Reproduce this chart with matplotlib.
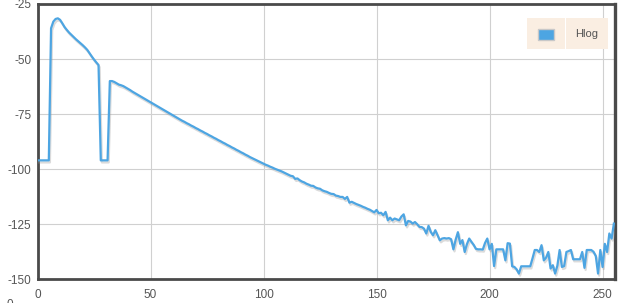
import numpy as np
import matplotlib
matplotlib.use("Agg")
import matplotlib.pyplot as plt
import matplotlib.patheffects as pe
from matplotlib.patches import Rectangle

# =========================
# 1) DATA (bins 0..255)
# =========================
series_name = "Hlog"

hlog_0_39 = [-96, -96, -96, -96, -96, -96, -36, -33, -31.8, -31.5,
             -32.2, -33.8, -35.5, -36.8, -38, -39, -40, -41, -41.9, -42.8,
             -43.7, -44.7, -45.8, -47.3, -48.8, -50.2, -51.5, -52.7, -96, -96,
             -96, -96, -60, -60, -60.4, -61, -61.6, -61.9, -62.3, -62.9]
hlog_40_99 = [-63.5, -64.1, -64.8, -65.4, -66, -66.6, -67.2, -67.8, -68.4, -69,
              -69.6, -70.2, -70.8, -71.4, -72, -72.6, -73.2, -73.8, -74.4, -75,
              -75.6, -76.2, -76.8, -77.4, -78, -78.5, -79.1, -79.6, -80.2, -80.7,
              -81.3, -81.8, -82.4, -82.9, -83.5, -84, -84.6, -85.1, -85.7, -86.2,
              -86.8, -87.3, -87.9, -88.4, -89, -89.5, -90.1, -90.6, -91.2, -91.7,
              -92.3, -92.8, -93.4, -93.9, -94.5, -95, -95.5, -96, -96.5, -97]
hlog_100_149 = [-97.5, -98, -98.4, -98.9, -99.3, -99.8, -100.2, -100.6, -101, -101.5,
                -102, -102.5, -103, -103.2, -104.4, -104.2, -105, -105.6, -106, -106.6,
                -107, -107.5, -107.6, -108.3, -108.7, -108.9, -109.6, -110, -110.3, -110.8,
                -111.2, -111.3, -112, -112.2, -112.6, -112.6, -113.5, -112.6, -115.2, -114.8,
                -115.3, -115.8, -116.2, -116.6, -117.1, -117.5, -118, -118.4, -119, -119.6]
hlog_150_199 = [-118.5, -120, -119.8, -120.9, -119.4, -123.2, -122, -123.2, -122.4, -122.8,
                -123.2, -121.5, -120.5, -125.5, -123.5, -123.8, -124.7, -124, -125, -126.2,
                -126.3, -127, -129.2, -125.7, -128.5, -130, -127.7, -130, -132.3, -131.5,
                -131.3, -131.5, -131.3, -131.8, -136.4, -132, -128.6, -133.9, -132.2, -137.6,
                -134, -131.5, -133, -134.4, -136.2, -136.4, -136.4, -136.5, -133.5, -131.5]
hlog_200_255 = [-136.4, -133.9, -144, -136.4, -136.4, -136.4, -136.4, -141.4, -133.6, -133.8,
                -144.1, -144.4, -145.5, -147.4, -144.1, -144.1, -144.1, -144.1, -144.1, -140.5,
                -136.7, -136.7, -137.6, -134.5, -141.4, -140.2, -137.6, -145.1, -143.6, -147.4,
                -143.8, -136.7, -144.4, -144, -137.6, -137.2, -136.7, -140.9, -140.9, -140.9,
                -140.9, -137.6, -144.8, -136.7, -136.7, -136.7, -137.5, -139.4, -147.4, -136.7,
                -144.4, -133.9, -137.6, -129.2, -131.5, -124.7]

hlog = hlog_0_39 + hlog_40_99 + hlog_100_149 + hlog_150_199 + hlog_200_255
bins = np.arange(len(hlog))

x_ticks = [0, 50, 100, 150, 200, 250]
y_ticks = [-150, -125, -100, -75, -50, -25]

# =========================
# 2) FIGURE
# =========================
plt.rcParams["font.family"] = ["Liberation Sans", "DejaVu Sans"]
plt.rcParams["axes.unicode_minus"] = False

W, H = 624, 303
fig = plt.figure(figsize=(W / 100, H / 100), dpi=100)
ax = fig.add_axes([37.5 / W, (H - 279.3) / H, (615 - 37.5) / W, 275.3 / H])

line_color = "#4da5e2"
ax.plot(bins, hlog, color=line_color, lw=1.6, solid_joinstyle="round",
        path_effects=[pe.SimpleLineShadow(offset=(0.8, -1.5), shadow_color="#999999", alpha=0.35),
                      pe.Normal()], zorder=3)

ax.set_xlim(0, 255.5)
ax.set_ylim(-150, -25)
ax.set_xticks(x_ticks)
ax.set_yticks(y_ticks)
ax.grid(True, color="#d0d0d0", lw=0.8)
ax.set_axisbelow(True)
ax.tick_params(length=0, labelsize=8.5, labelcolor="#555555")
ax.tick_params(axis="x", pad=7)
ax.tick_params(axis="y", pad=4.5)

for side, w in [("left", 2.0), ("bottom", 2.0), ("top", 2.0), ("right", 2.4)]:
    ax.spines[side].set_color("#4a4a4a")
    ax.spines[side].set_linewidth(w)

# =========================
# 3) LEGEND (jqplot-like boxes)
# =========================
def px(x, y, w, h):
    return (x / W, 1 - (y + h) / H, w / W, h / H)

for bx, bw in [(527, 38), (566, 42)]:
    x0, y0, ww, hh = px(bx, 18, bw, 31)
    fig.patches.append(Rectangle((x0, y0), ww, hh, transform=fig.transFigure,
                                 facecolor="#faeee2", edgecolor="none", zorder=5))
x0, y0, ww, hh = px(537.5, 28.5, 16.5, 11.5)
fig.patches.append(Rectangle((x0, y0), ww, hh, transform=fig.transFigure,
                             facecolor=line_color, edgecolor="#c8c8c8", lw=1.0, zorder=6))
fig.text(587 / W, 1 - 34 / H, series_name, ha="center", va="center",
         fontsize=8, color="#555555", zorder=7)

# cut-off label at the very bottom left (as in the reference)
fig.text(10 / W, 4 / H, "0", ha="center", va="top", fontsize=8.5, color="#555555")

fig.savefig("out.png", dpi=100)
